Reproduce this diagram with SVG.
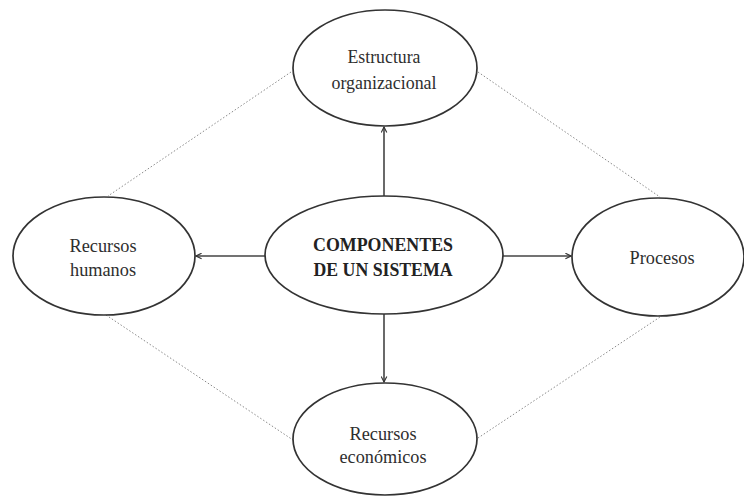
<svg xmlns="http://www.w3.org/2000/svg" width="744" height="497" viewBox="0 0 744 497">
  <style>
    .node ellipse { fill: #ffffff; stroke: #333333; stroke-width: 1.7; }
    .label { font-family: "Liberation Serif", "Times New Roman", serif; font-size: 19.5px; fill: #2e2e2e; text-anchor: middle; }
    .bold { font-weight: bold; fill: #222222; }
    .arrow { stroke: #444444; stroke-width: 1.6; fill: none; marker-end: url(#open); }
    .dotted { stroke: #8a8a8a; stroke-width: 1; stroke-dasharray: 1.5 2; fill: none; }
  </style>
  <defs>
    <marker id="open" viewBox="0 0 10 10" refX="9" refY="5" markerWidth="7" markerHeight="7" markerUnits="userSpaceOnUse" orient="auto">
      <path d="M1,1 L9,5 L1,9" fill="none" stroke="#333333" stroke-width="1.6"/>
    </marker>
  </defs>
  <rect width="744" height="497" fill="#ffffff"/>

  <g id="connectors">
    <line class="dotted" x1="291" y1="72" x2="108" y2="196"/>
    <line class="dotted" x1="478" y1="72" x2="660" y2="197"/>
    <line class="dotted" x1="106" y1="315" x2="293" y2="440"/>
    <line class="dotted" x1="475" y1="440" x2="663" y2="315"/>
    <line class="arrow" x1="384" y1="196" x2="384" y2="127"/>
    <line class="arrow" x1="265" y1="256" x2="196" y2="256"/>
    <line class="arrow" x1="503" y1="256" x2="571" y2="256"/>
    <line class="arrow" x1="384" y1="314" x2="384" y2="382"/>
  </g>

  <g id="estructura" class="node">
    <ellipse cx="385" cy="68" rx="92" ry="58"/>
    <text class="label" x="384" y="63" textLength="73" lengthAdjust="spacingAndGlyphs">Estructura</text>
    <text class="label" x="384" y="89" textLength="105" lengthAdjust="spacingAndGlyphs">organizacional</text>
  </g>
  <g id="componentes" class="node">
    <ellipse cx="384" cy="255" rx="119" ry="59"/>
    <text class="label bold" x="383" y="251" textLength="140" lengthAdjust="spacingAndGlyphs">COMPONENTES</text>
    <text class="label bold" x="383" y="276" textLength="139" lengthAdjust="spacingAndGlyphs">DE UN SISTEMA</text>
  </g>
  <g id="recursos-humanos" class="node">
    <ellipse cx="104" cy="256" rx="91" ry="59"/>
    <text class="label" x="103" y="252" textLength="67" lengthAdjust="spacingAndGlyphs">Recursos</text>
    <text class="label" x="103" y="276" textLength="66" lengthAdjust="spacingAndGlyphs">humanos</text>
  </g>
  <g id="procesos" class="node">
    <ellipse cx="658" cy="257" rx="86" ry="59"/>
    <text class="label" x="662" y="264" textLength="65" lengthAdjust="spacingAndGlyphs">Procesos</text>
  </g>
  <g id="recursos-economicos" class="node">
    <ellipse cx="385" cy="439" rx="92" ry="56"/>
    <text class="label" x="383" y="440" textLength="67" lengthAdjust="spacingAndGlyphs">Recursos</text>
    <text class="label" x="383" y="463" textLength="87" lengthAdjust="spacingAndGlyphs">económicos</text>
  </g>
</svg>
